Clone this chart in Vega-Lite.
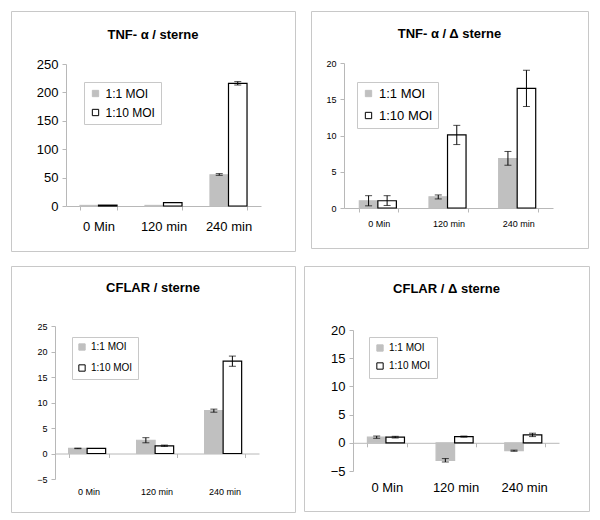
{
  "$schema": "https://vega.github.io/schema/vega-lite/v6.json",
  "padding": {"left": 10, "top": 10, "right": 0, "bottom": 0},
  "background": "white",
  "config": {
    "font": "Liberation Sans",
    "view": {"stroke": "#c8c8c8", "strokeWidth": 1},
    "axis": {"domainColor": "#b8b8b8", "tickColor": "#b8b8b8", "labelColor": "black", "grid": false, "tickSize": 4, "title": null, "labelFont": "Liberation Sans"},
    "legend": {"strokeColor": "#c8c8c8", "fillColor": "white", "symbolType": "square", "symbolStrokeWidth": 1, "labelFont": "Liberation Sans", "labelColor": "black", "title": null},
    "title": {"font": "Liberation Sans", "fontWeight": "bold", "color": "black", "anchor": "middle", "baseline": "middle"}
  },
  "datasets": {
    "p1": [
      {"time": "0 Min", "moi": "1:1 MOI", "value": 1, "lo": null, "hi": null},
      {"time": "0 Min", "moi": "1:10 MOI", "value": 1.5, "lo": null, "hi": null},
      {"time": "120 min", "moi": "1:1 MOI", "value": 1, "lo": null, "hi": null},
      {"time": "120 min", "moi": "1:10 MOI", "value": 6, "lo": null, "hi": null},
      {"time": "240 min", "moi": "1:1 MOI", "value": 55, "lo": 54, "hi": 57},
      {"time": "240 min", "moi": "1:10 MOI", "value": 216, "lo": 213, "hi": 219}
    ],
    "p2": [
      {"time": "0 Min", "moi": "1:1 MOI", "value": 1.0, "lo": 0.3, "hi": 1.7},
      {"time": "0 Min", "moi": "1:10 MOI", "value": 1.0, "lo": 0.35, "hi": 1.7},
      {"time": "120 min", "moi": "1:1 MOI", "value": 1.55, "lo": 1.25, "hi": 1.8},
      {"time": "120 min", "moi": "1:10 MOI", "value": 10.1, "lo": 8.75, "hi": 11.4},
      {"time": "240 min", "moi": "1:1 MOI", "value": 6.8, "lo": 5.9, "hi": 7.8},
      {"time": "240 min", "moi": "1:10 MOI", "value": 16.5, "lo": 14.0, "hi": 19.0}
    ],
    "p3": [
      {"time": "0 Min", "moi": "1:1 MOI", "value": 1.0, "lo": 0.95, "hi": 1.05},
      {"time": "0 Min", "moi": "1:10 MOI", "value": 1.0, "lo": null, "hi": null},
      {"time": "120 min", "moi": "1:1 MOI", "value": 2.6, "lo": 2.1, "hi": 3.1},
      {"time": "120 min", "moi": "1:10 MOI", "value": 1.5, "lo": 1.4, "hi": 1.65},
      {"time": "240 min", "moi": "1:1 MOI", "value": 8.4, "lo": 8.1, "hi": 8.7},
      {"time": "240 min", "moi": "1:10 MOI", "value": 18.1, "lo": 17.1, "hi": 19.1}
    ],
    "p4": [
      {"time": "0 Min", "moi": "1:1 MOI", "value": 1.0, "lo": 0.8, "hi": 1.2},
      {"time": "0 Min", "moi": "1:10 MOI", "value": 1.0, "lo": 0.85, "hi": 1.15},
      {"time": "120 min", "moi": "1:1 MOI", "value": -3.1, "lo": -3.4, "hi": -2.8},
      {"time": "120 min", "moi": "1:10 MOI", "value": 1.1, "lo": 1.0, "hi": 1.2},
      {"time": "240 min", "moi": "1:1 MOI", "value": -1.4, "lo": -1.5, "hi": -1.3},
      {"time": "240 min", "moi": "1:10 MOI", "value": 1.4, "lo": 1.1, "hi": 1.7}
    ]
  },
  "spacing": 13,
  "resolve": {"scale": {"fill": "independent", "stroke": "independent"}, "legend": {"fill": "independent", "stroke": "independent"}},
  "vconcat": [
    {
      "bounds": "flush",
      "spacing": 16,
      "resolve": {"scale": {"fill": "independent", "stroke": "independent"}, "legend": {"fill": "independent", "stroke": "independent"}},
      "hconcat": [
        {
          "width": 284, "height": 240,
          "data": {"name": "p1"},
          "title": {"text": "TNF- α / sterne", "fontSize": 13, "offset": -31},
          "layer": [
            {
              "mark": {"type": "bar", "strokeWidth": 1.2},
              "encoding": {
                "x": {"field": "time", "type": "nominal", "sort": ["0 Min", "120 min", "240 min"],
                      "scale": {"range": [55, 250], "paddingInner": 0.43, "paddingOuter": 0.215},
                      "axis": {"labelAngle": 0, "tickBand": "extent", "offset": -45, "labelFontSize": 13, "labelPadding": 10}},
                "xOffset": {"field": "moi", "type": "nominal", "sort": ["1:1 MOI", "1:10 MOI"]},
                "y": {"field": "value", "type": "quantitative",
                      "scale": {"domain": [0, 250], "range": [195, 53], "nice": false},
                      "axis": {"values": [0, 50, 100, 150, 200, 250], "offset": -55, "labelFontSize": 13, "labelPadding": 4}},
                "fill": {"field": "moi", "type": "nominal", "scale": {"domain": ["1:1 MOI", "1:10 MOI"], "range": ["#c0c0c0", "white"]},
                         "legend": {"orient": "none", "legendX": 73, "legendY": 71, "labelFontSize": 12, "padding": 5.5, "rowPadding": 7, "symbolSize": 40}},
                "stroke": {"field": "moi", "type": "nominal", "scale": {"domain": ["1:1 MOI", "1:10 MOI"], "range": ["#c0c0c0", "black"]},
                         "legend": {"orient": "none", "legendX": 73, "legendY": 71, "labelFontSize": 12, "padding": 5.5, "rowPadding": 7, "symbolSize": 40}}
              }
            },
            {
              "mark": {"type": "rule", "color": "black"},
              "encoding": {
                "x": {"field": "time", "type": "nominal", "sort": ["0 Min", "120 min", "240 min"]},
                "xOffset": {"field": "moi", "type": "nominal", "sort": ["1:1 MOI", "1:10 MOI"]},
                "y": {"field": "lo", "type": "quantitative"},
                "y2": {"field": "hi"}
              }
            },
            {
              "mark": {"type": "tick", "color": "black", "size": 7, "thickness": 1},
              "encoding": {
                "x": {"field": "time", "type": "nominal", "sort": ["0 Min", "120 min", "240 min"]},
                "xOffset": {"field": "moi", "type": "nominal", "sort": ["1:1 MOI", "1:10 MOI"]},
                "y": {"field": "lo", "type": "quantitative"}
              }
            },
            {
              "mark": {"type": "tick", "color": "black", "size": 7, "thickness": 1},
              "encoding": {
                "x": {"field": "time", "type": "nominal", "sort": ["0 Min", "120 min", "240 min"]},
                "xOffset": {"field": "moi", "type": "nominal", "sort": ["1:1 MOI", "1:10 MOI"]},
                "y": {"field": "hi", "type": "quantitative"}
              }
            }
          ]
        },
        {
          "width": 277, "height": 237,
          "data": {"name": "p2"},
          "title": {"text": "TNF- α / Δ sterne", "fontSize": 13, "offset": -30},
          "layer": [
            {
              "mark": {"type": "bar", "strokeWidth": 1.2},
              "encoding": {
                "x": {"field": "time", "type": "nominal", "sort": ["0 Min", "120 min", "240 min"],
                      "scale": {"range": [33, 242], "paddingInner": 0.44, "paddingOuter": 0.22},
                      "axis": {"labelAngle": 0, "tickBand": "extent", "offset": -40, "labelFontSize": 9, "labelPadding": 7}},
                "xOffset": {"field": "moi", "type": "nominal", "sort": ["1:1 MOI", "1:10 MOI"]},
                "y": {"field": "value", "type": "quantitative",
                      "scale": {"domain": [0, 20], "range": [197, 52], "nice": false},
                      "axis": {"values": [0, 5, 10, 15, 20], "offset": -33, "labelFontSize": 9, "labelPadding": 4}},
                "fill": {"field": "moi", "type": "nominal", "scale": {"domain": ["1:1 MOI", "1:10 MOI"], "range": ["#c0c0c0", "white"]},
                         "legend": {"orient": "none", "legendX": 46, "legendY": 71, "labelFontSize": 13, "padding": 5, "rowPadding": 8, "symbolSize": 40}},
                "stroke": {"field": "moi", "type": "nominal", "scale": {"domain": ["1:1 MOI", "1:10 MOI"], "range": ["#c0c0c0", "black"]},
                         "legend": {"orient": "none", "legendX": 46, "legendY": 71, "labelFontSize": 13, "padding": 5, "rowPadding": 8, "symbolSize": 40}}
              }
            },
            {
              "mark": {"type": "rule", "color": "black"},
              "encoding": {
                "x": {"field": "time", "type": "nominal", "sort": ["0 Min", "120 min", "240 min"]},
                "xOffset": {"field": "moi", "type": "nominal", "sort": ["1:1 MOI", "1:10 MOI"]},
                "y": {"field": "lo", "type": "quantitative"},
                "y2": {"field": "hi"}
              }
            },
            {
              "mark": {"type": "tick", "color": "black", "size": 7, "thickness": 1},
              "encoding": {
                "x": {"field": "time", "type": "nominal", "sort": ["0 Min", "120 min", "240 min"]},
                "xOffset": {"field": "moi", "type": "nominal", "sort": ["1:1 MOI", "1:10 MOI"]},
                "y": {"field": "lo", "type": "quantitative"}
              }
            },
            {
              "mark": {"type": "tick", "color": "black", "size": 7, "thickness": 1},
              "encoding": {
                "x": {"field": "time", "type": "nominal", "sort": ["0 Min", "120 min", "240 min"]},
                "xOffset": {"field": "moi", "type": "nominal", "sort": ["1:1 MOI", "1:10 MOI"]},
                "y": {"field": "hi", "type": "quantitative"}
              }
            }
          ]
        }
      ]
    },
    {
      "bounds": "flush",
      "spacing": 9,
      "resolve": {"scale": {"fill": "independent", "stroke": "independent"}, "legend": {"fill": "independent", "stroke": "independent"}},
      "hconcat": [
        {
          "width": 284, "height": 246,
          "data": {"name": "p3"},
          "title": {"text": "CFLAR / sterne", "fontSize": 13, "offset": -29},
          "resolve": {"axis": {"x": "independent"}},
          "layer": [
            {
              "mark": {"type": "bar", "strokeWidth": 1.2},
              "encoding": {
                "x": {"field": "time", "type": "nominal", "sort": ["0 Min", "120 min", "240 min"],
                      "scale": {"range": [44, 248], "paddingInner": 0.4, "paddingOuter": 0.2},
                      "axis": {"orient": "bottom", "labels": false, "tickBand": "extent", "offset": -58.5}},
                "xOffset": {"field": "moi", "type": "nominal", "sort": ["1:1 MOI", "1:10 MOI"]},
                "y": {"field": "value", "type": "quantitative",
                      "scale": {"domain": [-5, 25], "range": [213, 60], "nice": false, "zero": false},
                      "axis": {"values": [-5, 0, 5, 10, 15, 20, 25], "offset": -44, "labelFontSize": 9, "labelPadding": 4}},
                "fill": {"field": "moi", "type": "nominal", "scale": {"domain": ["1:1 MOI", "1:10 MOI"], "range": ["#c0c0c0", "white"]},
                         "legend": {"orient": "none", "legendX": 61, "legendY": 71, "labelFontSize": 10, "padding": 5, "rowPadding": 9, "symbolSize": 40}},
                "stroke": {"field": "moi", "type": "nominal", "scale": {"domain": ["1:1 MOI", "1:10 MOI"], "range": ["#c0c0c0", "black"]},
                         "legend": {"orient": "none", "legendX": 61, "legendY": 71, "labelFontSize": 10, "padding": 5, "rowPadding": 9, "symbolSize": 40}}
              }
            },
            {
              "mark": {"type": "rule", "color": "black"},
              "encoding": {
                "x": {"field": "time", "type": "nominal", "sort": ["0 Min", "120 min", "240 min"],
                      "axis": {"orient": "bottom", "labelAngle": 0, "domain": false, "ticks": false, "offset": -33, "labelFontSize": 9, "labelPadding": 8}},
                "xOffset": {"field": "moi", "type": "nominal", "sort": ["1:1 MOI", "1:10 MOI"]},
                "y": {"field": "lo", "type": "quantitative"},
                "y2": {"field": "hi"}
              }
            },
            {
              "mark": {"type": "tick", "color": "black", "size": 7, "thickness": 1},
              "encoding": {
                "x": {"field": "time", "type": "nominal", "sort": ["0 Min", "120 min", "240 min"], "axis": null},
                "xOffset": {"field": "moi", "type": "nominal", "sort": ["1:1 MOI", "1:10 MOI"]},
                "y": {"field": "lo", "type": "quantitative"}
              }
            },
            {
              "mark": {"type": "tick", "color": "black", "size": 7, "thickness": 1},
              "encoding": {
                "x": {"field": "time", "type": "nominal", "sort": ["0 Min", "120 min", "240 min"], "axis": null},
                "xOffset": {"field": "moi", "type": "nominal", "sort": ["1:1 MOI", "1:10 MOI"]},
                "y": {"field": "hi", "type": "quantitative"}
              }
            }
          ]
        },
        {
          "width": 285, "height": 245,
          "data": {"name": "p4"},
          "title": {"text": "CFLAR / Δ sterne", "fontSize": 13, "offset": -30},
          "resolve": {"axis": {"x": "independent"}},
          "layer": [
            {
              "mark": {"type": "bar", "strokeWidth": 1.2},
              "encoding": {
                "x": {"field": "time", "type": "nominal", "sort": ["0 Min", "120 min", "240 min"],
                      "scale": {"range": [49, 255], "paddingInner": 0.42, "paddingOuter": 0.21},
                      "axis": {"orient": "bottom", "labels": false, "tickBand": "extent", "offset": -68.2}},
                "xOffset": {"field": "moi", "type": "nominal", "sort": ["1:1 MOI", "1:10 MOI"]},
                "y": {"field": "value", "type": "quantitative",
                      "scale": {"domain": [-5, 20], "range": [205, 64], "nice": false, "zero": false},
                      "axis": {"values": [-5, 0, 5, 10, 15, 20], "offset": -49, "labelFontSize": 13, "labelPadding": 4}},
                "fill": {"field": "moi", "type": "nominal", "scale": {"domain": ["1:1 MOI", "1:10 MOI"], "range": ["#c0c0c0", "white"]},
                         "legend": {"orient": "none", "legendX": 65, "legendY": 71, "labelFontSize": 10, "padding": 6, "rowPadding": 6, "symbolSize": 40}},
                "stroke": {"field": "moi", "type": "nominal", "scale": {"domain": ["1:1 MOI", "1:10 MOI"], "range": ["#c0c0c0", "black"]},
                         "legend": {"orient": "none", "legendX": 65, "legendY": 71, "labelFontSize": 10, "padding": 6, "rowPadding": 6, "symbolSize": 40}}
              }
            },
            {
              "mark": {"type": "rule", "color": "black"},
              "encoding": {
                "x": {"field": "time", "type": "nominal", "sort": ["0 Min", "120 min", "240 min"],
                      "axis": {"orient": "bottom", "labelAngle": 0, "domain": false, "ticks": false, "offset": -40, "labelFontSize": 13, "labelPadding": 10}},
                "xOffset": {"field": "moi", "type": "nominal", "sort": ["1:1 MOI", "1:10 MOI"]},
                "y": {"field": "lo", "type": "quantitative"},
                "y2": {"field": "hi"}
              }
            },
            {
              "mark": {"type": "tick", "color": "black", "size": 7, "thickness": 1},
              "encoding": {
                "x": {"field": "time", "type": "nominal", "sort": ["0 Min", "120 min", "240 min"], "axis": null},
                "xOffset": {"field": "moi", "type": "nominal", "sort": ["1:1 MOI", "1:10 MOI"]},
                "y": {"field": "lo", "type": "quantitative"}
              }
            },
            {
              "mark": {"type": "tick", "color": "black", "size": 7, "thickness": 1},
              "encoding": {
                "x": {"field": "time", "type": "nominal", "sort": ["0 Min", "120 min", "240 min"], "axis": null},
                "xOffset": {"field": "moi", "type": "nominal", "sort": ["1:1 MOI", "1:10 MOI"]},
                "y": {"field": "hi", "type": "quantitative"}
              }
            }
          ]
        }
      ]
    }
  ]
}
